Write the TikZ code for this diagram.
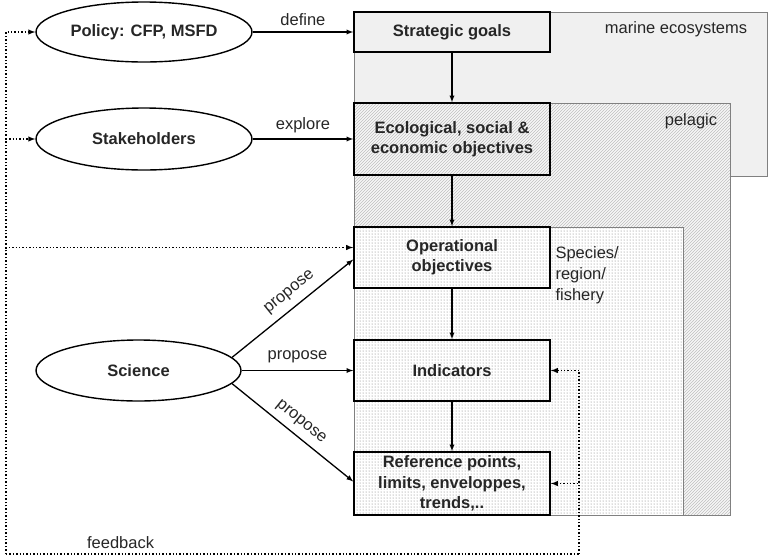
\documentclass[tikz,border=0pt]{standalone}
\usepackage{fontspec}
\setmainfont{Liberation Sans}
\usetikzlibrary{shapes.geometric,patterns,positioning}

\begin{document}
\begin{tikzpicture}[->, >=latex, x=1pt, y=-1pt, node distance=113pt,
    main node/.style={ellipse, draw, line width=1.4pt, inner sep=0pt, minimum width=216pt, minimum height=60pt, font=\fontsize{16.5}{20}\selectfont\bfseries},
    box node/.style={rectangle, draw, line width=1.6pt, inner sep=0pt, minimum width=196pt, align=center, font=\fontsize{16.5}{20}\selectfont\bfseries},
    area/.style={draw=black!50, line width=0.8pt},
    fb/.style={dotted, line width=1.4pt}]
    \tikzstyle{every node}=[font=\fontsize{16.5}{21}\selectfont, text=black!85]
    \useasboundingbox (0,0) rectangle (768,558);

    % the three nested areas
    \filldraw[area, fill=black!6, -] (354,12) rectangle (767,176);
    \draw[area, preaction={fill=black!3}, pattern=north east lines, pattern color=black!25, -] (354,103) rectangle (730,515);
    \draw[area, preaction={fill=white}, pattern=dots, pattern color=black!55, -] (354,227) rectangle (683,515);
    \node (11) at (676,29) {marine ecosystems};
    \node (12) at (691,121) {pelagic};
    \node[align=left, anchor=north west] (13) at (552,243) {Species/\\region/\\fishery};

    % boxes
    \node[box node, minimum height=40pt] (4) at (452,32) {Strategic goals};
    \node[box node, minimum height=72pt] (5) [below of=4, node distance=107pt] {Ecological, social \&\\economic objectives};
    \node[box node, minimum height=61pt] (6) [below of=5, node distance=118.5pt] {Operational\\objectives};
    \node[box node, minimum height=61pt] (7) [below of=6] {Indicators};
    \node[box node, minimum height=63pt, font=\fontsize{16.5}{20.5}\selectfont\bfseries] (8) [below of=7] {Reference points,\\limits, enveloppes,\\trends,..};

    % actors
    \node[main node] (1) [left of=4, node distance=308pt] {Policy: CFP, MSFD};
    \node[main node, minimum height=62pt] (2) [left of=5, node distance=308pt] {Stakeholders};
    \node[main node, minimum width=205pt, minimum height=61pt] (3) [left of=7, node distance=313.5pt] {Science};

    \path[line width=1.3pt]
      (1) edge node [above=2pt] {define} (4)
      (2) edge node [above=2pt] {explore} (5)
      (3) edge node [above=4pt] {propose} (7)
      (3.8) edge node [pos=0.55, above=4pt, sloped] {propose} ([yshift=-2pt]6.west)
      (3.-8) edge node [above=3pt, sloped] {propose} ([yshift=2pt]8.west)
      (4) edge (5)
      (5) edge (6)
      (6) edge (7)
      (7) edge (8);

    % feedback loop
    \coordinate (9) at (6,554);
    \coordinate (10) at (579,554);
    \draw[fb, -] (9) -- (10) node[pos=0.2, above=1pt] (14) {feedback};
    \draw[fb] (9) |- (1);
    \draw[fb] (9) |- (2);
    \draw[fb] (9) |- ([yshift=10pt]6.west);
    \draw[fb] (10) |- (7);
    \draw[fb] (10) |- (8);
\end{tikzpicture}
\end{document}
